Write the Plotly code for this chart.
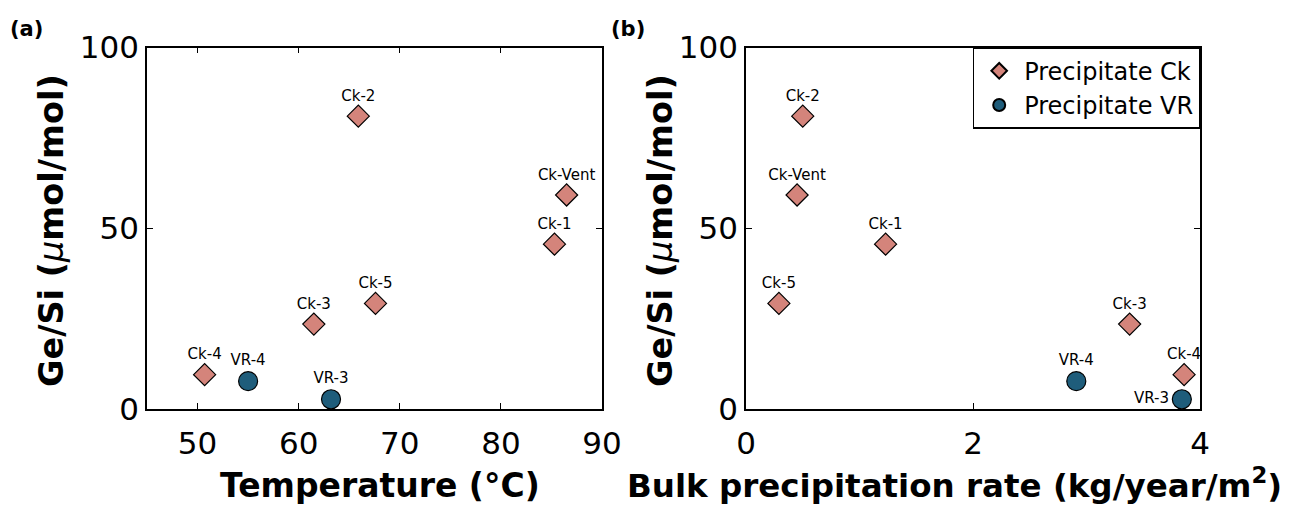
import plotly.graph_objects as go

# ---- data ----
ck_names = ["Ck-2", "Ck-Vent", "Ck-1", "Ck-5", "Ck-3", "Ck-4"]
ck_temp = [65.9, 86.5, 85.3, 67.6, 61.5, 50.7]
ck_rate = [0.50, 0.45, 1.23, 0.29, 3.38, 3.86]
ck_gesi = [81.0, 59.2, 45.6, 29.2, 23.5, 9.5]

vr_names = ["VR-4", "VR-3"]
vr_temp = [55.0, 63.2]
vr_rate = [2.91, 3.84]
vr_gesi = [7.7, 2.7]

temp_ticks = [50, 60, 70, 80, 90]
rate_ticks = [0, 2, 4]
gesi_ticks = [0, 50, 100]

FONT = "DejaVu Sans, Liberation Sans, Arial, sans-serif"
CK_FILL = "#D4847B"
VR_FILL = "#1F5D7B"

ck_marker = dict(symbol="diamond", size=17, color=CK_FILL, line=dict(color="black", width=1.2))
vr_marker = dict(symbol="circle", size=19, color=VR_FILL, line=dict(color="black", width=1.2))
lab_font = dict(family=FONT, size=15, color="black")

fig = go.Figure()

# panel (a)
fig.add_trace(go.Scatter(x=ck_temp, y=ck_gesi, mode="markers+text", text=ck_names,
                         textposition="top center", textfont=lab_font, marker=ck_marker,
                         name="Precipitate Ck", showlegend=True, cliponaxis=False,
                         xaxis="x", yaxis="y"))
fig.add_trace(go.Scatter(x=vr_temp, y=vr_gesi, mode="markers+text", text=vr_names,
                         textposition="top center", textfont=lab_font, marker=vr_marker,
                         name="Precipitate VR", showlegend=True, cliponaxis=False,
                         xaxis="x", yaxis="y"))
# panel (b)
fig.add_trace(go.Scatter(x=ck_rate, y=ck_gesi, mode="markers+text", text=ck_names,
                         textposition="top center", textfont=lab_font, marker=ck_marker,
                         name="Precipitate Ck", showlegend=False, cliponaxis=False,
                         xaxis="x2", yaxis="y2"))
fig.add_trace(go.Scatter(x=vr_rate, y=vr_gesi, mode="markers+text", text=vr_names,
                         textposition=["top center", "middle left"], textfont=lab_font,
                         marker=vr_marker, name="Precipitate VR", showlegend=False,
                         cliponaxis=False, xaxis="x2", yaxis="y2"))

axis_common = dict(showline=True, linecolor="black", linewidth=1.6, mirror="ticks",
                   ticks="inside", ticklen=6, tickwidth=1.4, tickcolor="black",
                   showgrid=False, zeroline=False, automargin=False,
                   tickfont=dict(family=FONT, size=31, color="black"))

Y0 = 1 - 409 / 506
Y1 = 1 - 47.5 / 506
fig.update_layout(
    template="none",
    width=1290, height=506,
    margin=dict(l=0, r=0, t=0, b=0, pad=0),
    paper_bgcolor="white", plot_bgcolor="white",
    font=dict(family=FONT, color="black"),
    xaxis=dict(domain=[147 / 1290, 602 / 1290], range=[45, 90], tickvals=temp_ticks,
               anchor="y", ticklabelstandoff=6, **axis_common),
    yaxis=dict(domain=[Y0, Y1], range=[0, 100], tickvals=gesi_ticks, anchor="x",
               **axis_common),
    xaxis2=dict(domain=[746 / 1290, 1200 / 1290], range=[0, 4], tickvals=rate_ticks,
                anchor="y2", ticklabelstandoff=6, **axis_common),
    yaxis2=dict(domain=[Y0, Y1], range=[0, 100], tickvals=gesi_ticks, anchor="x2",
                **axis_common),
    legend=dict(x=1200 / 1290, y=Y1, xanchor="right", yanchor="top",
                bordercolor="black", borderwidth=1.2, bgcolor="white",
                font=dict(family=FONT, size=24, color="black"),
                itemsizing="constant", itemwidth=40, tracegroupgap=0),
)

ytitle = "<b>Ge/Si (</b><i>μ</i><b>mol/mol)</b>"
ann = [
    dict(text=ytitle, x=51 / 1290, y=1 - 231 / 506, textangle=-90, size=33.5),
    dict(text=ytitle, x=660 / 1290, y=1 - 231 / 506, textangle=-90, size=33.5),
    dict(text="<b>Temperature (°C)</b>", x=380 / 1290, y=1 - 485 / 506, size=33),
    dict(text="<b>Bulk precipitation rate (kg/year/m<sup>2</sup>)</b>", x=954 / 1290,
         y=1 - 483 / 506, size=32.5),
    dict(text="<b>(a)</b>", x=26 / 1290, y=1 - 29 / 506, size=21),
    dict(text="<b>(b)</b>", x=628 / 1290, y=1 - 29 / 506, size=21),
]
for a in ann:
    sz = a.pop("size")
    fig.add_annotation(xref="paper", yref="paper", showarrow=False, xanchor="center",
                       yanchor="middle", font=dict(family=FONT, size=sz, color="black"), **a)

fig.write_html("out.html")
